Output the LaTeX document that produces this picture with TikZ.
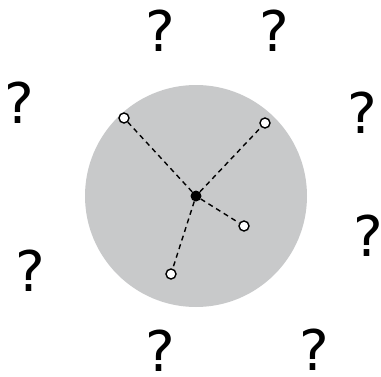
\documentclass[tikz,border=0pt]{standalone}
\usepackage{fontspec}
\setmainfont{DejaVu Sans}
\definecolor{disc}{HTML}{C8C9CA}
\tikzset{
  q/.style={font=\fontsize{56pt}{60pt}\selectfont, text=black, inner sep=0pt},
  hub/.style={circle, fill=black, minimum size=11pt, inner sep=0pt},
  leaf/.style={circle, draw=black, fill=white, line width=1.4pt, minimum size=10pt, inner sep=0pt},
  link/.style={dashed, dash pattern=on 5pt off 4pt, line width=1.4pt},
}
\begin{document}
\begin{tikzpicture}[x=1pt,y=-1pt]
  \useasboundingbox (0,0) rectangle (381,376);
  \fill[disc] (196,196) circle[radius=111];
  \node[hub] (c) at (196,196) {};
  \node[leaf] (a1) at (124,118) {};
  \node[leaf] (a2) at (265,123) {};
  \node[leaf] (a3) at (244,226) {};
  \node[leaf] (a4) at (171,274) {};
  \foreach \n in {a1,a2,a3,a4}
    \draw[link] (c) -- (\n);
  % question marks around the disc
  \node[q] (q1) at (160,31) {?};
  \node[q] (q2) at (274,31) {?};
  \node[q] (q3) at (19,103) {?};
  \node[q] (q4) at (362,113) {?};
  \node[q] (q5) at (368,236) {?};
  \node[q] (q6) at (30,271) {?};
  \node[q] (q7) at (160,351) {?};
  \node[q] (q8) at (314,350) {?};
\end{tikzpicture}
\end{document}
